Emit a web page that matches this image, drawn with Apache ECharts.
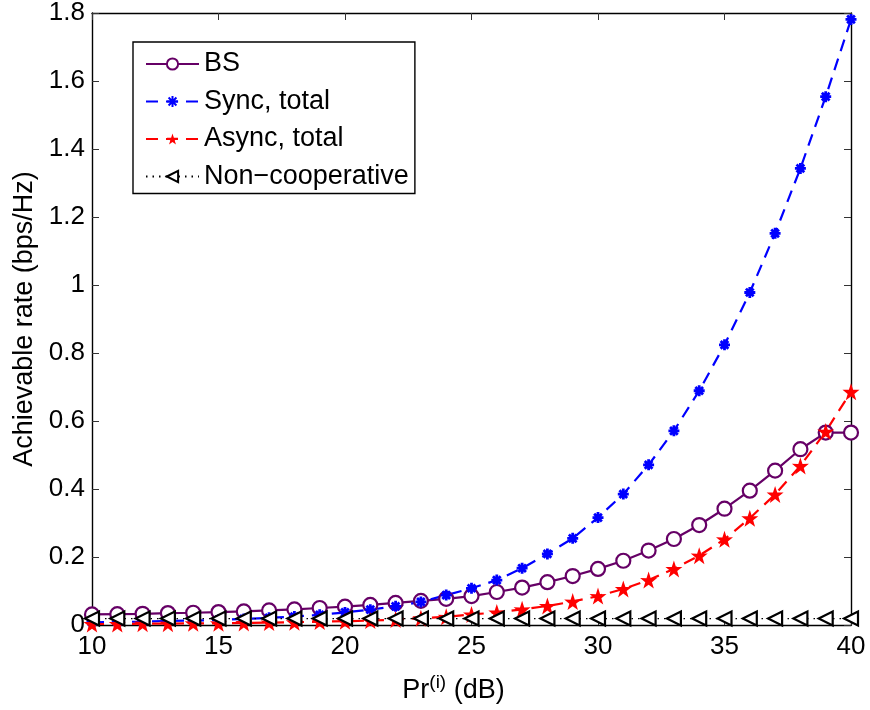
<!DOCTYPE html>
<html>
<head>
<meta charset="utf-8">
<script src="https://cdn.jsdelivr.net/npm/echarts@6/dist/echarts.min.js"></script>
<style>html,body{margin:0;padding:0;background:#fff}#c{width:870px;height:710px}</style>
</head>
<body>
<div id="c"></div>
<script>
const xValues = [10,11,12,13,14,15,16,17,18,19,20,21,22,23,24,25,26,27,28,29,30,31,32,33,34,35,36,37,38,39,40];
const bsRate = [0.031,0.032,0.033,0.035,0.036,0.038,0.040,0.043,0.046,0.050,0.054,0.059,0.065,0.071,0.077,0.085,0.097,0.110,0.126,0.144,0.165,0.189,0.219,0.253,0.294,0.342,0.395,0.454,0.517,0.566,0.566];
const syncTotal = [0.008,0.009,0.010,0.012,0.013,0.015,0.018,0.021,0.025,0.030,0.037,0.045,0.055,0.068,0.088,0.108,0.132,0.167,0.209,0.255,0.316,0.385,0.471,0.571,0.689,0.824,0.978,1.152,1.343,1.554,1.781];
const asyncTotal = [0.003,0.003,0.004,0.004,0.005,0.005,0.006,0.007,0.008,0.010,0.011,0.013,0.016,0.020,0.024,0.031,0.037,0.046,0.056,0.069,0.085,0.106,0.132,0.165,0.204,0.252,0.314,0.384,0.468,0.569,0.686];
const nonCoop = [0.019,0.019,0.019,0.019,0.019,0.019,0.019,0.019,0.019,0.019,0.019,0.019,0.019,0.019,0.019,0.019,0.019,0.019,0.019,0.019,0.019,0.019,0.019,0.019,0.019,0.019,0.019,0.019,0.019,0.019,0.019];
const seriesNames = ['BS','Sync, total','Async, total','Non\u2212cooperative'];

const pairs = ys => xValues.map((x,i) => [x, ys[i]]);
const FONT = 'Liberation Sans, Arial, sans-serif';
const asterisk = 'path://M5,0L5,10M0,5L10,5M1.5,1.5L8.5,8.5M1.5,8.5L8.5,1.5';
const star = 'path://M50,0L61.8,35.1L97.6,34.5L68.8,56.6L79.4,90.5L50,70L20.6,90.5L31.2,56.6L2.4,34.5L38.2,35.1Z';

const chart = echarts.init(document.getElementById('c'), null, {renderer:'canvas'});
const axisCommon = {
  axisLine:{show:true, onZero:false, lineStyle:{color:'#000', width:1.4}},
  axisTick:{show:true, inside:true, length:7, lineStyle:{color:'#333', width:1}},
  splitLine:{show:false}
};
chart.setOption({
  animation:false,
  backgroundColor:'#fff',
  grid:{left:92, right:19, top:13, bottom:85},
  legend:{
    left:133, top:42, orient:'vertical',
    backgroundColor:'#fff', borderColor:'#000', borderWidth:1.4,
    padding:[7,6,2,12], itemGap:7.5, itemWidth:53, itemHeight:14,
    textStyle:{fontFamily:FONT, fontSize:27, color:'#000', lineHeight:30},
    data:seriesNames
  },
  xAxis:[
    Object.assign({type:'value', min:10, max:40, interval:5, position:'bottom',
      axisLabel:{fontFamily:FONT, fontSize:26, color:'#000', margin:9},
      name:'{a|Pr}{s|(i)}{a| (dB)}', nameLocation:'middle', nameGap:48,
      nameTextStyle:{padding:[0,36,0,0], rich:{a:{fontFamily:FONT, fontSize:27, color:'#000'}, s:{fontFamily:FONT, fontSize:19, color:'#000', verticalAlign:'bottom', padding:[0,0,16,0]}}}
    }, axisCommon),
    Object.assign({type:'value', min:10, max:40, interval:5, position:'top', axisLabel:{show:false}}, axisCommon)
  ],
  yAxis:[
    Object.assign({type:'value', min:0, max:1.8, interval:0.2, position:'left',
      axisLabel:{fontFamily:FONT, fontSize:26, color:'#000', margin:7},
      name:'Achievable rate (bps/Hz)', nameLocation:'middle', nameGap:53,
      nameTextStyle:{fontFamily:FONT, fontSize:27, color:'#000'}
    }, axisCommon),
    Object.assign({type:'value', min:0, max:1.8, interval:0.2, position:'right', axisLabel:{show:false}}, axisCommon)
  ],
  series:[
    {name:seriesNames[0], type:'line', data:pairs(bsRate), symbol:'circle', symbolSize:14,
     lineStyle:{color:'#660066', width:2.2, type:'solid'},
     itemStyle:{color:'#fff', borderColor:'#660066', borderWidth:2.2}},
    {name:seriesNames[1], type:'line', data:pairs(syncTotal), symbol:asterisk, symbolSize:11,
     lineStyle:{color:'#0000ff', width:2.2, type:[12,8]},
     itemStyle:{color:'#0000ff', borderColor:'#0000ff', borderWidth:2.8}},
    {name:seriesNames[2], type:'line', data:pairs(asyncTotal), symbol:star, symbolSize:17,
     lineStyle:{color:'#ff0000', width:2.2, type:[12,8]},
     itemStyle:{color:'#ff0000', borderColor:'#ff0000', borderWidth:0}},
    {name:seriesNames[3], type:'line', data:pairs(nonCoop), symbol:'triangle', symbolRotate:90, symbolSize:14,
     lineStyle:{color:'#000', width:1.3, type:[1.5,5]},
     itemStyle:{color:'#fff', borderColor:'#000', borderWidth:2.2}}
  ]
});
</script>
</body>
</html>
